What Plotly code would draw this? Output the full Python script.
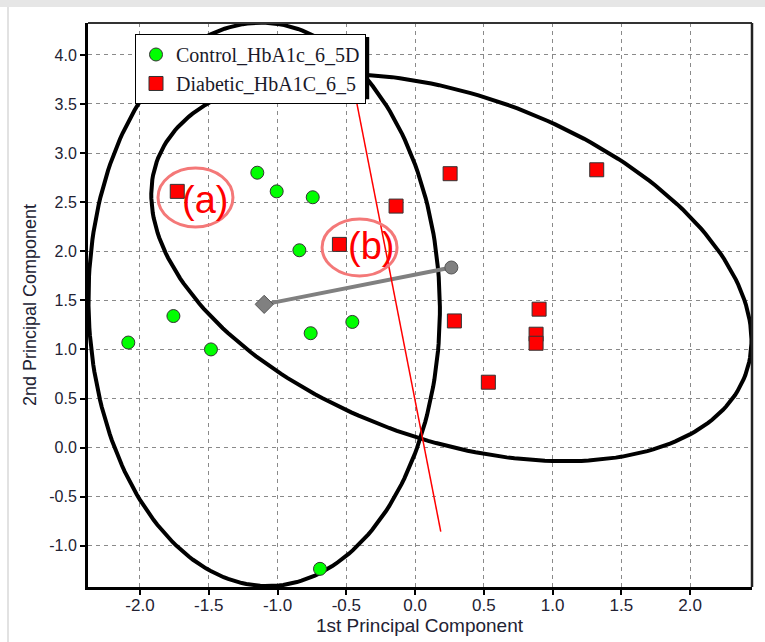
import numpy as np
import plotly.graph_objects as go

# ---- data ----
control_x = [-1.147, -1.006, -0.744, -0.841, -1.757, -2.085, -1.484, -0.759, -0.456, -0.691]
control_y = [2.80, 2.61, 2.55, 2.01, 1.34, 1.07, 1.00, 1.165, 1.28, -1.235]
diabetic_x = [-1.729, -0.55, -0.138, 0.255, 1.321, 0.286, 0.902, 0.88, 0.88, 0.533]
diabetic_y = [2.61, 2.07, 2.46, 2.79, 2.83, 1.29, 1.41, 1.155, 1.063, 0.666]
series_names = ["Control_HbA1c_6_5D", "Diabetic_HbA1C_6_5"]

# hand-drawn annotations on the picture
red_line_x = [-0.516, 0.187]
red_line_y = [4.172, -0.855]
note_labels = ["(a)", "(b)"]
note_x = [-1.527, -0.32]
note_y = [2.522, 2.054]
note_box_x0 = [-1.869, -0.676]
note_box_x1 = [-1.324, -0.131]
note_box_y0 = [2.247, 1.748]
note_box_y1 = [2.848, 2.329]

x_range = [-2.378, 2.45]
y_range = [-1.42, 4.325]
x_ticks = [-2.0, -1.5, -1.0, -0.5, 0.0, 0.5, 1.0, 1.5, 2.0]
y_ticks = [-1.0, -0.5, 0.0, 0.5, 1.0, 1.5, 2.0, 2.5, 3.0, 3.5, 4.0]


def conf_ellipse(xs, ys, n=240):
    pts = np.column_stack([xs, ys])
    mu = pts.mean(axis=0)
    cov = np.cov(pts.T)
    vals, vecs = np.linalg.eigh(cov)
    k = np.sqrt(-2 * np.log(0.05))  # 95% chi-square, 2 dof
    t = np.linspace(0, 2 * np.pi, n)
    circ = np.vstack([np.cos(t), np.sin(t)])
    e = vecs @ (np.sqrt(vals)[:, None] * circ) * k
    return e[0] + mu[0], e[1] + mu[1]


fig = go.Figure()

for xs, ys in [(control_x, control_y), (diabetic_x, diabetic_y)]:
    ex, ey = conf_ellipse(xs, ys)
    fig.add_trace(go.Scatter(x=ex, y=ey, mode="lines", line=dict(color="black", width=4),
                             showlegend=False, hoverinfo="skip"))

cx = [float(np.mean(control_x)), float(np.mean(diabetic_x))]
cy = [float(np.mean(control_y)), float(np.mean(diabetic_y))]
fig.add_trace(go.Scatter(x=cx, y=cy, mode="lines", line=dict(color="#808080", width=4),
                         showlegend=False, hoverinfo="skip"))
fig.add_trace(go.Scatter(x=cx[:1], y=cy[:1], mode="markers",
                         marker=dict(symbol="diamond", size=14, color="#808080",
                                     line=dict(color="#555555", width=1)),
                         showlegend=False))
fig.add_trace(go.Scatter(x=cx[1:], y=cy[1:], mode="markers",
                         marker=dict(symbol="circle", size=13, color="#808080",
                                     line=dict(color="#555555", width=1)),
                         showlegend=False))

fig.add_trace(go.Scatter(x=red_line_x, y=red_line_y, mode="lines",
                         line=dict(color="#ff0000", width=1.5), showlegend=False))

fig.add_trace(go.Scatter(x=control_x, y=control_y, mode="markers", name=series_names[0],
                         marker=dict(symbol="circle", size=13, color="#00ff00",
                                     line=dict(color="#333333", width=1))))
fig.add_trace(go.Scatter(x=diabetic_x, y=diabetic_y, mode="markers", name=series_names[1],
                         marker=dict(symbol="square", size=14, color="#ff0000",
                                     line=dict(color="#333333", width=1))))

shapes = []
for i in range(len(note_labels)):
    shapes.append(dict(type="circle", xref="x", yref="y",
                       x0=note_box_x0[i], x1=note_box_x1[i], y0=note_box_y0[i], y1=note_box_y1[i],
                       line=dict(color="#f47878", width=3), layer="above"))
# top / right frame
shapes.append(dict(type="line", xref="paper", yref="paper", x0=0, x1=1, y0=1, y1=1,
                   line=dict(color="#333333", width=2)))
shapes.append(dict(type="line", xref="paper", yref="paper", x0=1, x1=1, y0=0, y1=1,
                   line=dict(color="#222222", width=2.5)))
# window chrome
shapes.append(dict(type="rect", xref="paper", yref="paper", x0=-0.14, x1=1.03, y0=1.0284, y1=1.05,
                   fillcolor="#e6e6e6", line=dict(width=0), layer="below"))
shapes.append(dict(type="line", xref="paper", yref="paper", x0=-0.1205, x1=-0.1205, y0=-0.1, y1=1.0284,
                   line=dict(color="#e2e2e2", width=2)))
# legend shadow
shapes.append(dict(type="rect", xref="paper", yref="paper", x0=0.0753, x1=0.4235, y0=0.8650, y1=0.9752,
                   fillcolor="black", line=dict(width=0), layer="above"))

annotations = []
for i, lab in enumerate(note_labels):
    annotations.append(dict(x=note_x[i], y=note_y[i], xref="x", yref="y", text=lab, showarrow=False,
                            font=dict(family="Liberation Sans", size=38, color="#ff0000")))
annotations.append(dict(x=0.5, y=0, xref="paper", yref="paper", yshift=-38, text="1st Principal Component",
                        showarrow=False, yanchor="middle",
                        font=dict(family="Liberation Sans", size=19, color="#222233")))
annotations.append(dict(x=0, y=0.5, xref="paper", yref="paper", xshift=-58, text="2nd Principal Component",
                        showarrow=False, textangle=-90, xanchor="center",
                        font=dict(family="Liberation Sans", size=18, color="#222233")))

grid = dict(showgrid=True, gridcolor="#8a8a8a", gridwidth=1.2, griddash="4px,4px",
            zeroline=False, showline=True, linecolor="black", linewidth=3,
            ticks="outside", ticklen=5, tickwidth=2, tickcolor="black")

fig.update_layout(
    width=765, height=642,
    margin=dict(l=88, r=13, t=23, b=55),
    paper_bgcolor="white", plot_bgcolor="white",
    xaxis=dict(range=x_range, tickvals=x_ticks, ticktext=[f"{v:.1f}" for v in x_ticks],
               ticklabelstandoff=-4,
               tickfont=dict(family="Liberation Sans", size=17, color="#222233"), **grid),
    yaxis=dict(range=y_range, tickvals=y_ticks, ticktext=[f"{v:.1f}" for v in y_ticks],
               tickfont=dict(family="Liberation Sans", size=16, color="#222233"), **grid),
    legend=dict(x=0.0708, y=0.9805, xanchor="left", yanchor="top",
                bgcolor="white", bordercolor="black", borderwidth=1,
                font=dict(family="Liberation Serif", size=20, color="#1a1a2a")),
    shapes=shapes, annotations=annotations,
    showlegend=True,
)

fig.write_html("out.html")
